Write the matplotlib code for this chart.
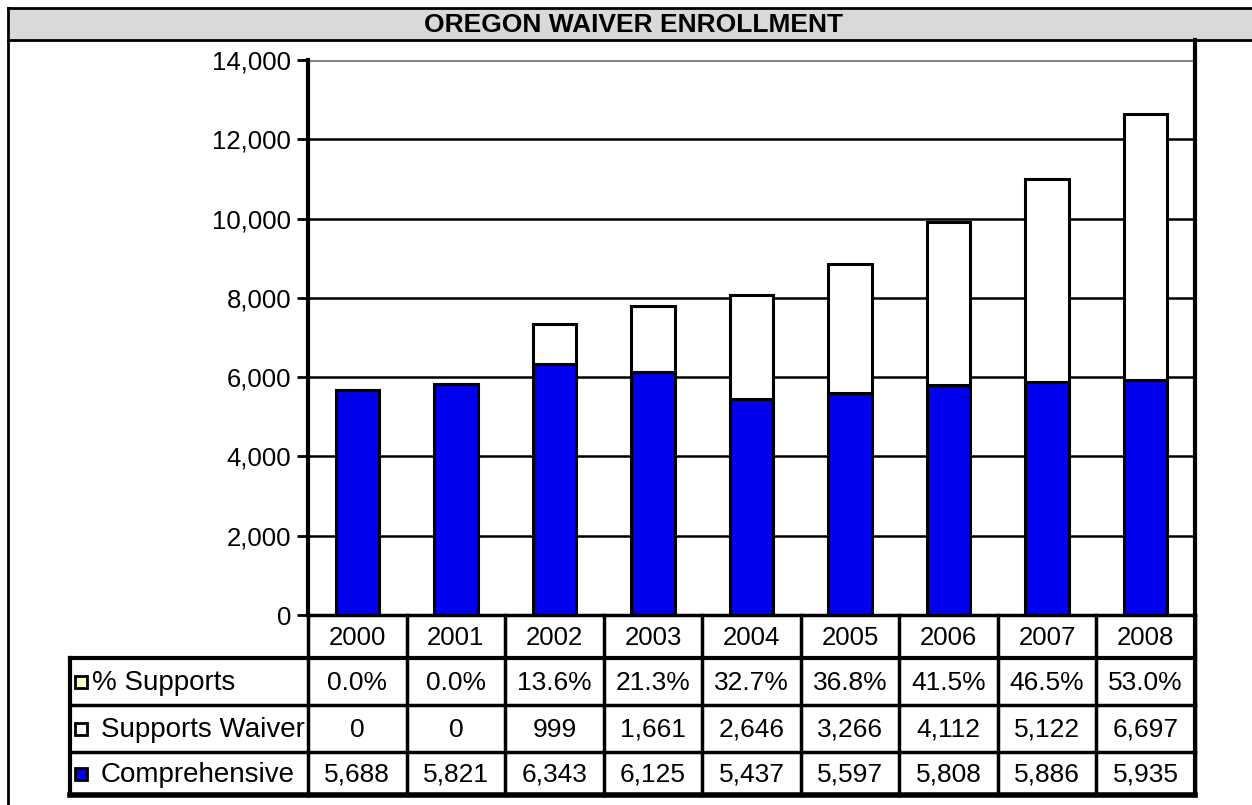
import matplotlib
matplotlib.use("Agg")
import matplotlib.pyplot as plt
from matplotlib.lines import Line2D
from matplotlib.patches import Rectangle
from matplotlib.transforms import Bbox

plt.rcParams['font.family'] = ['Liberation Sans', 'DejaVu Sans']

title = "OREGON WAIVER ENROLLMENT"
years = ["2000", "2001", "2002", "2003", "2004", "2005", "2006", "2007", "2008"]
comprehensive = [5688, 5821, 6343, 6125, 5437, 5597, 5808, 5886, 5935]
supports = [0, 0, 999, 1661, 2646, 3266, 4112, 5122, 6697]
pct_supports = [0.0, 0.0, 13.6, 21.3, 32.7, 36.8, 41.5, 46.5, 53.0]
row_labels = ["% Supports", "Supports Waiver", "Comprehensive"]
row_colors = ["#FFFFC8", "#FFFFFF", "#0000EE"]
yticks = [0, 2000, 4000, 6000, 8000, 10000, 12000, 14000]

W, H = 1252, 805
fig = plt.figure(figsize=(W / 100, H / 100), dpi=100)
fig.patch.set_facecolor("white")

def fx(x):
    return x / W

def fy(y):
    return 1 - y / H

def hline(x0, x1, y, lw=2.2, color="black"):
    fig.add_artist(Line2D([fx(x0), fx(x1)], [fy(y), fy(y)], color=color, lw=lw,
                          transform=fig.transFigure, solid_capstyle="projecting"))

def vline(x, y0, y1, lw=2.2, color="black"):
    fig.add_artist(Line2D([fx(x), fx(x)], [fy(y0), fy(y1)], color=color, lw=lw,
                          transform=fig.transFigure, solid_capstyle="projecting"))

# Title band
fig.add_artist(Rectangle((fx(8), fy(40)), fx(1252) - fx(8), fy(8) - fy(40),
                         transform=fig.transFigure, facecolor="#D9D9D9", edgecolor="none"))
hline(8, 1252, 8, lw=2)
hline(8, 1252, 40, lw=2)
vline(8, 8, 805, lw=2)
fig.text(fx(633), fy(24.5), title, ha="center", va="center", fontsize=19, fontweight="bold")

# Plot area
L, R, T, B = 308, 1195, 60, 615
ax = fig.add_axes([fx(L), fy(B), fx(R) - fx(L), fy(T) - fy(B)])
ax.set_xlim(-0.5, len(years) - 0.5)
ax.set_ylim(0, 14000)
x = range(len(years))
for yv in yticks[1:-1]:
    ax.axhline(yv, color="black", lw=1.8, zorder=1)
ax.axhline(yticks[-1], color="#888888", lw=2.2, zorder=1)
ax.bar(x, comprehensive, width=0.44, color="#0000EE", edgecolor="black", lw=2.2, zorder=3)
ax.bar(x, supports, width=0.44, bottom=comprehensive, color="white", edgecolor="black",
       lw=2.2, zorder=3)
ax.set_yticks(yticks)
ax.set_yticklabels([f"{v:,}" for v in yticks], fontsize=18.5)
ax.tick_params(axis="y", direction="out", length=8, width=2, pad=4)
ax.set_xticks([])
for s in ["top", "right", "bottom"]:
    ax.spines[s].set_visible(False)
ax.spines["left"].set_linewidth(3)

# Right border line
vline(R, 40, 795, lw=3)

# Table
col_w = (R - L) / len(years)
row_y = [615, 658, 705, 752, 795]
TL = 70
hline(L, R, row_y[0], lw=2.5)
hline(TL, R, row_y[1], lw=3)
hline(TL, R, row_y[2], lw=2.5)
hline(TL, R, row_y[3], lw=2.5)
hline(TL, R, row_y[4], lw=4)
vline(TL, row_y[1], row_y[4], lw=3)
for i in range(len(years) + 1):
    vline(L + i * col_w, row_y[0], row_y[4], lw=2.5)

fs_head = 18.5
fs = 19
for i, yr in enumerate(years):
    cx = L + (i + 0.5) * col_w
    fig.text(fx(cx), fy((row_y[0] + row_y[1]) / 2 + 1), yr, ha="center", va="center", fontsize=fs_head)
    fig.text(fx(cx), fy((row_y[1] + row_y[2]) / 2 + 1), f"{pct_supports[i]:.1f}%",
             ha="center", va="center", fontsize=fs)
    fig.text(fx(cx), fy((row_y[2] + row_y[3]) / 2 + 1), f"{supports[i]:,}",
             ha="center", va="center", fontsize=fs)
    fig.text(fx(cx), fy((row_y[3] + row_y[4]) / 2 + 1), f"{comprehensive[i]:,}",
             ha="center", va="center", fontsize=fs)

clip = Bbox.from_extents(TL, H - row_y[4], L - 2, H - row_y[1])
label_x = [92, 101, 101]
for j, (lab, col) in enumerate(zip(row_labels, row_colors)):
    cy = (row_y[j + 1] + row_y[j + 2]) / 2
    fig.add_artist(Rectangle((fx(75), fy(cy + 6)), fx(12), fy(0) - fy(12),
                             transform=fig.transFigure, facecolor=col, edgecolor="black", lw=2))
    t = fig.text(fx(label_x[j]), fy(cy + 1), lab, ha="left", va="center", fontsize=20)
    t.set_clip_box(clip)
    t.set_clip_on(True)

fig.savefig("out.png", dpi=100)
